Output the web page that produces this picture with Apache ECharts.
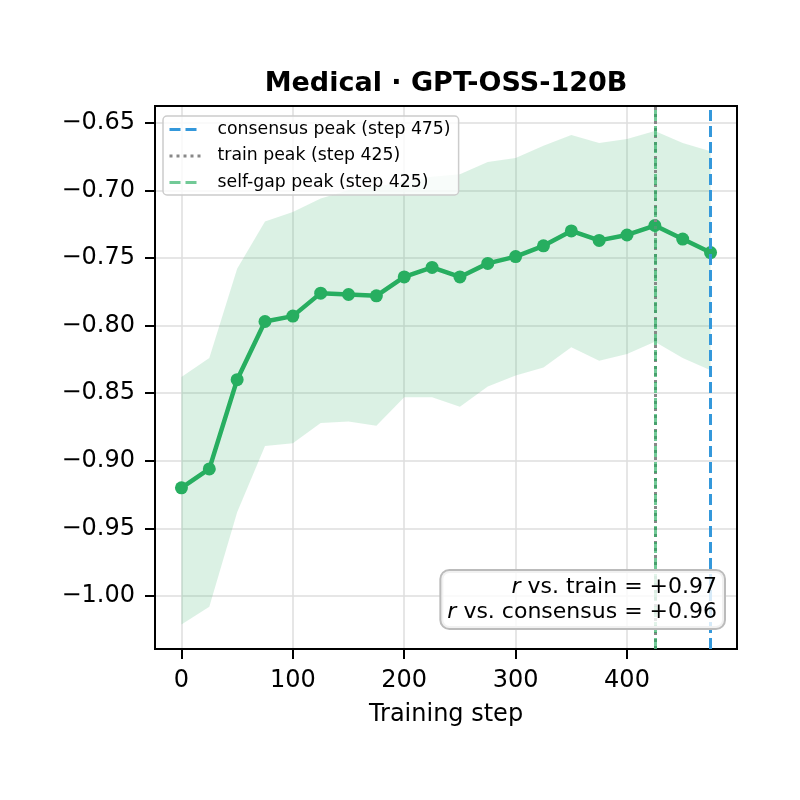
<!DOCTYPE html>
<html>
<head>
<meta charset="utf-8">
<script src="https://cdn.jsdelivr.net/npm/echarts@6/dist/echarts.min.js"></script>
<style>
  html, body { margin: 0; padding: 0; background: #fff; }
  #chart { width: 800px; height: 800px; }
</style>
</head>
<body>
<div id="chart"></div>
<script>
// per-step agreement
const steps = [0, 25, 50, 75, 100, 125, 150, 175, 200, 225, 250, 275, 300, 325, 350, 375, 400, 425, 450, 475]
const meanScore = [-0.920, -0.906, -0.840, -0.797, -0.793, -0.776, -0.777, -0.778, -0.764, -0.757,
  -0.764, -0.754, -0.749, -0.741, -0.730, -0.737, -0.733, -0.726, -0.736, -0.746]
const bandLower = [-1.021, -1.008, -0.938, -0.889, -0.887, -0.872, -0.871, -0.874, -0.853, -0.853,
  -0.860, -0.845, -0.837, -0.831, -0.816, -0.826, -0.821, -0.812, -0.824, -0.833]
const bandUpper = [-0.838, -0.824, -0.758, -0.723, -0.716, -0.706, -0.700, -0.697, -0.694, -0.690,
  -0.688, -0.679, -0.676, -0.667, -0.659, -0.665, -0.662, -0.656, -0.665, -0.671]

const consensusPeak = 475
const trainPeak = 425
const selfGapPeak = 425
const rTrain = '+0.97'
const rConsensus = '+0.96'

const FONT = 'DejaVu Sans'
const GREEN = '#27ae60'
const BLUE = '#3498db'
const X_MIN = -23.75, X_MAX = 498.75
const Y_MIN = -1.0392, Y_MAX = -0.6376

const fmtY = v => {
  const k = Math.round(v / 0.05)
  if (Math.abs(v - k * 0.05) > 1e-6) return ''
  return (v < 0 ? '\u2212' : '') + Math.abs(v).toFixed(2)
}
const fmtX = v => (Math.abs(v % 100) < 1e-6 ? String(v) : '')

const peakSeries = (name, x, color, type, width) => ({
  name,
  type: 'line',
  data: [],
  symbol: 'none',
  color,
  lineStyle: { color, type, width },
  markLine: {
    silent: true,
    symbol: ['none', 'none'],
    label: { show: false },
    lineStyle: { color, type, width },
    data: [{ xAxis: x }]
  },
  z: 5
})

// shaded band as one polygon through the axis scales
const renderBand = (params, api) => {
  if (params.dataIndex !== 0) return { type: 'group', children: [] }
  const pts = []
  steps.forEach((s, i) => pts.push(api.coord([s, bandUpper[i]])))
  for (let i = steps.length - 1; i >= 0; i--) pts.push(api.coord([steps[i], bandLower[i]]))
  return {
    type: 'polygon',
    shape: { points: pts },
    style: { fill: 'rgba(39,174,96,0.17)', stroke: 'none' },
    silent: true
  }
}

const frameAxis = { show: true, onZero: false, lineStyle: { color: '#000', width: 2 } }
const gridLine = { show: true, showMinLine: false, showMaxLine: false, lineStyle: { color: '#dedede', width: 1.5 } }
const tickStyle = { show: true, length: 10, lineStyle: { color: '#000', width: 2 } }

const option = {
  animation: false,
  title: {
    text: 'Medical \u00b7 GPT-OSS-120B',
    left: 441,
    top: 65,
    textAlign: 'center',
    textStyle: { fontFamily: FONT, fontSize: 27, fontWeight: 'bold', color: '#000' }
  },
  grid: {
    left: 155, right: 63, top: 106, bottom: 151,
    show: true, borderColor: '#000', borderWidth: 2, backgroundColor: 'transparent'
  },
  legend: {
    data: ['consensus peak (step 475)', 'train peak (step 425)', 'self-gap peak (step 425)'],
    orient: 'vertical',
    left: 163,
    top: 116,
    padding: [5, 8, 4, 5],
    itemWidth: 32,
    itemHeight: 16,
    itemGap: 9.5,
    itemStyle: { opacity: 0 },
    lineStyle: { width: 3 },
    backgroundColor: 'rgba(255,255,255,0.8)',
    borderColor: '#cccccc',
    borderWidth: 1.5,
    borderRadius: 4,
    textStyle: { fontFamily: FONT, fontSize: 17.3, color: '#000', padding: [0, 0, 0, 11] }
  },
  xAxis: [
    {
      type: 'value',
      min: X_MIN,
      max: X_MAX,
      splitNumber: 5,
      name: 'Training step',
      nameLocation: 'middle',
      nameGap: 54,
      nameTextStyle: { fontFamily: FONT, fontSize: 24, color: '#000' },
      axisLine: frameAxis,
      axisTick: tickStyle,
      axisLabel: { fontFamily: FONT, fontSize: 24, color: '#000', margin: 20, formatter: fmtX, showMinLabel: false, showMaxLabel: false },
      splitLine: gridLine
    },
    {
      type: 'value', position: 'top', min: X_MIN, max: X_MAX,
      axisLine: frameAxis, axisTick: { show: false }, axisLabel: { show: false }, splitLine: { show: false }
    }
  ],
  yAxis: [
    {
      type: 'value',
      min: Y_MIN,
      max: Y_MAX,
      splitNumber: 8,
      axisLine: frameAxis,
      axisTick: tickStyle,
      axisLabel: { fontFamily: FONT, fontSize: 24, color: '#000', margin: 20, formatter: fmtY, showMinLabel: false, showMaxLabel: false },
      splitLine: gridLine
    },
    {
      type: 'value', position: 'right', min: Y_MIN, max: Y_MAX,
      axisLine: frameAxis, axisTick: { show: false }, axisLabel: { show: false }, splitLine: { show: false }
    }
  ],
  series: [
    {
      name: 'band',
      type: 'custom',
      data: steps.map((s, i) => [s, bandLower[i], bandUpper[i]]),
      encode: { x: 0, y: [1, 2] },
      renderItem: renderBand,
      silent: true,
      z: 1
    },
    {
      name: 'score',
      type: 'line',
      data: steps.map((s, i) => [s, meanScore[i]]),
      color: GREEN,
      lineStyle: { color: GREEN, width: 4.5 },
      symbol: 'circle',
      symbolSize: 13,
      itemStyle: { color: GREEN },
      z: 3
    },
    peakSeries('consensus peak (step 475)', consensusPeak, BLUE, [11, 5], 3),
    peakSeries('train peak (step 425)', trainPeak, '#888888', [3, 4], 3),
    peakSeries('self-gap peak (step 425)', selfGapPeak, 'rgba(39,174,96,0.65)', [11, 5], 3)
  ],
  graphic: [
    {
      type: 'text',
      right: 74,
      bottom: 170,
      z: 100,
      style: {
        text: '{i|r}{t| vs. train = ' + rTrain + '}\n{i|r}{t| vs. consensus = ' + rConsensus + '}',
        fontFamily: FONT,
        fontSize: 22,
        lineHeight: 25,
        fill: '#000',
        backgroundColor: 'rgba(255,255,255,0.8)',
        borderColor: '#bbbbbb',
        borderWidth: 2,
        borderRadius: 8,
        padding: [4, 7, 3, 6],
        rich: {
          i: { fontFamily: FONT, fontSize: 22, fontStyle: 'italic', lineHeight: 25, align: 'right' },
          t: { fontFamily: FONT, fontSize: 22, lineHeight: 25, align: 'right' }
        }
      }
    }
  ]
}

const chart = echarts.init(document.getElementById('chart'))
chart.setOption(option)
</script>
</body>
</html>
